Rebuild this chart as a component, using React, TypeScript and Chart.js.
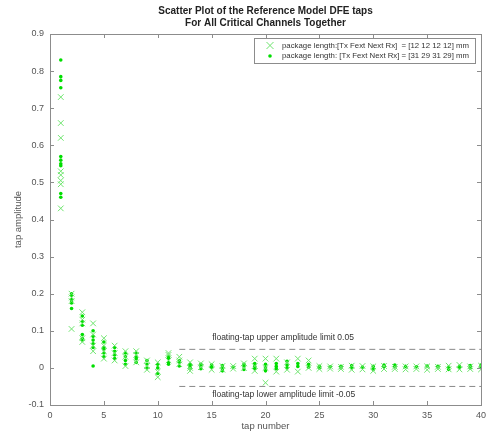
import React, { useEffect, useRef } from "react";
import { Chart, registerables } from "chart.js";

Chart.register(...registerables);

const titleLines = [
  "Scatter Plot of the Reference Model DFE taps",
  "For All Critical Channels Together",
];
const legendLabels = [
  "package length:[Tx Fext Next Rx]  = [12 12 12 12] mm",
  "package length: [Tx Fext Next Rx] = [31 29 31 29] mm",
];
const xTicks = [0, 5, 10, 15, 20, 25, 30, 35, 40];
const yTicks = [-0.1, 0, 0.1, 0.2, 0.3, 0.4, 0.5, 0.6, 0.7, 0.8, 0.9];
const limitStart = 12;
const limitEnd = 40;
const upperLimit = 0.05;
const lowerLimit = -0.05;
const upperLabel = "floating-tap upper amplitude limit 0.05";
const lowerLabel = "floating-tap lower amplitude limit -0.05";

// values per tap number (index 0 -> tap 1)
const seriesA: number[][] = [
  [0.73, 0.66, 0.62, 0.53, 0.52, 0.505, 0.495, 0.43],
  [0.2, 0.19, 0.18, 0.105],
  [0.15, 0.13, 0.12, 0.08, 0.07],
  [0.12, 0.09, 0.06, 0.045],
  [0.08, 0.06, 0.045, 0.025],
  [0.06, 0.04, 0.02],
  [0.045, 0.03, 0.005],
  [0.045, 0.035, 0.015],
  [0.02, 0.005, -0.005],
  [0.015, -0.01, -0.025],
  [0.04, 0.035, 0.02],
  [0.03, 0.02, 0.01],
  [0.015, 0.0, -0.008],
  [0.012, 0.002],
  [0.01, -0.005],
  [0.005, -0.005],
  [0.005, -0.002],
  [0.012, 0.0],
  [0.025, 0.005, -0.008],
  [0.025, 0.0, -0.04],
  [0.025, -0.01],
  [0.015, -0.005],
  [0.025, -0.01],
  [0.02, 0.0],
  [0.005, -0.003],
  [0.004, -0.002],
  [0.003, -0.003],
  [0.006, -0.005],
  [0.005, -0.004],
  [0.004, -0.008],
  [0.005, -0.003],
  [0.003, -0.003],
  [0.004, -0.004],
  [0.004, -0.003],
  [0.004, -0.005],
  [0.003, -0.003],
  [0.006, -0.004],
  [0.008, -0.004],
  [0.004, -0.003],
  [0.006, -0.004],
];
const seriesB: number[][] = [
  [0.83, 0.785, 0.775, 0.755, 0.57, 0.56, 0.55, 0.545, 0.47, 0.46],
  [0.2, 0.195, 0.185, 0.18, 0.175, 0.16],
  [0.14, 0.125, 0.115, 0.09, 0.08, 0.075],
  [0.1, 0.085, 0.075, 0.065, 0.055, 0.005],
  [0.07, 0.055, 0.05, 0.04, 0.03],
  [0.055, 0.045, 0.035, 0.025],
  [0.04, 0.03, 0.02, 0.01],
  [0.04, 0.03, 0.025, 0.015],
  [0.02, 0.01, 0.0],
  [0.01, 0.0, -0.015],
  [0.03, 0.025, 0.015, 0.01],
  [0.02, 0.015, 0.005],
  [0.01, 0.005, 0.0],
  [0.01, 0.005, -0.002],
  [0.008, 0.002],
  [0.006, -0.002, -0.008],
  [0.002],
  [0.01, 0.004, -0.004],
  [0.012, 0.004, -0.002],
  [0.01, 0.0, -0.008],
  [0.012, 0.004, -0.002],
  [0.018, 0.008, 0.0],
  [0.012, 0.004],
  [0.01, 0.002],
  [0.004, 0.0],
  [0.003],
  [0.004, 0.0],
  [0.006, 0.0],
  [0.002],
  [0.004, -0.004],
  [0.008, 0.004],
  [0.008, 0.004],
  [0.004],
  [0.003],
  [0.005],
  [0.004],
  [0.002, -0.004],
  [0.004, 0.0],
  [0.006, 0.0],
  [0.008, 0.002],
];

const colorX = "rgb(110,228,110)";
const colorDot = "rgb(0,222,0)";
const axisColor = "#8c8c8c";
const textColor = "#555";
const FONT = "'Liberation Sans', Arial, sans-serif";

function toPoints(series: number[][]) {
  const pts: { x: number; y: number }[] = [];
  series.forEach((vals, i) => vals.forEach((v) => pts.push({ x: i + 1, y: v })));
  return pts;
}

const decorPlugin = {
  id: "decor",
  afterDraw(chart: any) {
    const { ctx, chartArea: a, scales } = chart;
    const xs = scales.x;
    const ys = scales.y;
    ctx.save();
    // box
    ctx.strokeStyle = axisColor;
    ctx.lineWidth = 1;
    ctx.strokeRect(a.left + 0.5, a.top + 0.5, a.right - a.left, a.bottom - a.top);
    // inward ticks
    const tl = 4;
    ctx.beginPath();
    xTicks.forEach((t) => {
      const px = Math.round(xs.getPixelForValue(t)) + 0.5;
      ctx.moveTo(px, a.bottom);
      ctx.lineTo(px, a.bottom - tl);
      ctx.moveTo(px, a.top);
      ctx.lineTo(px, a.top + tl);
    });
    yTicks.forEach((t) => {
      const py = Math.round(ys.getPixelForValue(t)) + 0.5;
      ctx.moveTo(a.left, py);
      ctx.lineTo(a.left + tl, py);
      ctx.moveTo(a.right, py);
      ctx.lineTo(a.right - tl, py);
    });
    ctx.stroke();

    // title
    ctx.fillStyle = "#222";
    ctx.font = `bold 10px ${FONT}`;
    ctx.textAlign = "center";
    ctx.textBaseline = "middle";
    const cx = (a.left + a.right) / 2;
    ctx.fillText(titleLines[0], cx, 11);
    ctx.fillText(titleLines[1], cx, 23);

    // axis titles
    ctx.fillStyle = textColor;
    ctx.font = `9.5px ${FONT}`;
    ctx.fillText("tap number", cx, 426);
    ctx.save();
    ctx.translate(18, (a.top + a.bottom) / 2);
    ctx.rotate(-Math.PI / 2);
    ctx.fillText("tap amplitude", 0, 0);
    ctx.restore();

    // limit labels
    ctx.font = `8.5px ${FONT}`;
    ctx.textAlign = "left";
    ctx.fillStyle = "#333";
    ctx.fillText(upperLabel, xs.getPixelForValue(15.05), ys.getPixelForValue(upperLimit) - 12);
    ctx.fillText(lowerLabel, xs.getPixelForValue(15.05), ys.getPixelForValue(lowerLimit) + 8);

    // legend
    const lx = 254, ly = 38, lw = 221, lh = 25;
    ctx.fillStyle = "#fff";
    ctx.fillRect(lx, ly, lw, lh);
    ctx.strokeStyle = axisColor;
    ctx.strokeRect(lx + 0.5, ly + 0.5, lw, lh);
    ctx.font = `7.8px ${FONT}`;
    ctx.fillStyle = "#333";
    ctx.fillText(legendLabels[0], lx + 28, ly + 7.5);
    ctx.fillText(legendLabels[1], lx + 28, ly + 18);
    // x marker
    const mx = lx + 16, my1 = ly + 7.5, my2 = ly + 18;
    ctx.strokeStyle = colorX;
    ctx.lineWidth = 1;
    ctx.beginPath();
    ctx.moveTo(mx - 3.5, my1 - 3.5);
    ctx.lineTo(mx + 3.5, my1 + 3.5);
    ctx.moveTo(mx + 3.5, my1 - 3.5);
    ctx.lineTo(mx - 3.5, my1 + 3.5);
    ctx.stroke();
    ctx.fillStyle = colorDot;
    ctx.beginPath();
    ctx.arc(mx, my2, 1.8, 0, Math.PI * 2);
    ctx.fill();
    ctx.restore();
  },
};

export default function App() {
  const ref = useRef<HTMLCanvasElement>(null);
  useEffect(() => {
    if (!ref.current) return;
    const chart = new Chart(ref.current, {
      type: "scatter",
      data: {
        datasets: [
          {
            label: "upper",
            type: "line",
            data: [
              { x: limitStart, y: upperLimit },
              { x: limitEnd, y: upperLimit },
            ],
            borderColor: "#888",
            borderWidth: 1,
            borderDash: [6, 4],
            pointRadius: 0,
            showLine: true,
          } as any,
          {
            label: "lower",
            type: "line",
            data: [
              { x: limitStart, y: lowerLimit },
              { x: limitEnd, y: lowerLimit },
            ],
            borderColor: "#888",
            borderWidth: 1,
            borderDash: [6, 4],
            pointRadius: 0,
            showLine: true,
          } as any,
          {
            label: legendLabels[0],
            data: toPoints(seriesA),
            pointStyle: "crossRot",
            pointRadius: 4,
            borderColor: colorX,
            backgroundColor: colorX,
            pointBorderWidth: 1,
          },
          {
            label: legendLabels[1],
            data: toPoints(seriesB),
            pointStyle: "circle",
            pointRadius: 1.8,
            borderWidth: 0,
            borderColor: colorDot,
            backgroundColor: colorDot,
          },
        ],
      },
      options: {
        animation: false,
        responsive: false,
        maintainAspectRatio: false,
        layout: { padding: { top: 34, right: 6, left: 0, bottom: 0 } },
        plugins: {
          legend: { display: false },
          tooltip: { enabled: false },
          title: { display: false },
        },
        scales: {
          x: {
            type: "linear",
            min: 0,
            max: 40,
            afterFit: (s: any) => {
              s.height = 26;
              s.paddingLeft = 0;
              s.paddingRight = 0;
            },
            afterBuildTicks: (s: any) => {
              s.ticks = xTicks.map((v) => ({ value: v }));
            },
            grid: { display: false, drawTicks: false },
            border: { display: false },
            ticks: {
              color: textColor,
              font: { family: FONT, size: 9 },
              padding: 5,
              maxRotation: 0,
              autoSkip: false,
            },
          },
          y: {
            type: "linear",
            min: -0.1,
            max: 0.9,
            afterFit: (s: any) => {
              s.width = 50;
              s.paddingTop = 0;
              s.paddingBottom = 0;
            },
            afterBuildTicks: (s: any) => {
              s.ticks = yTicks.map((v) => ({ value: v }));
            },
            grid: { display: false, drawTicks: false },
            border: { display: false },
            ticks: {
              color: textColor,
              font: { family: FONT, size: 9 },
              padding: 6,
              autoSkip: false,
              callback: (v: any) => String(Number(Number(v).toFixed(1))),
            },
          },
        },
      },
      plugins: [decorPlugin],
    });
    return () => chart.destroy();
  }, []);
  return (
    <div style={{ position: "fixed", left: 0, top: 0, width: 487, height: 431, background: "#fff" }}>
      <canvas ref={ref} width={487} height={431} style={{ width: 487, height: 431 }} />
    </div>
  );
}
